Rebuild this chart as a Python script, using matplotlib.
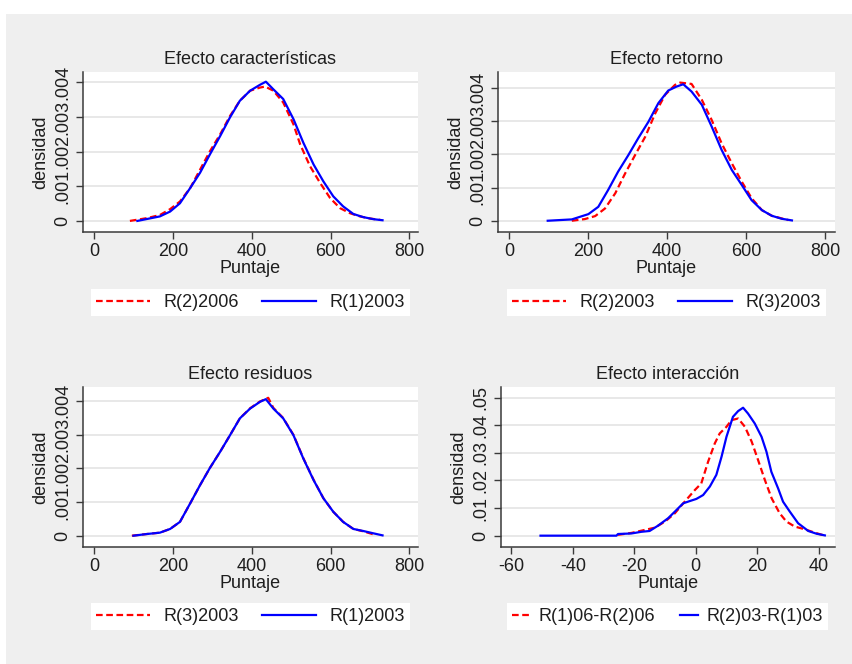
import matplotlib
matplotlib.use("Agg")
import matplotlib.pyplot as plt
from matplotlib.patches import Rectangle
from matplotlib.lines import Line2D

plt.rcParams['font.family'] = ['Liberation Sans', 'DejaVu Sans']

# ---------------- data ----------------
titles = ["Efecto características", "Efecto retorno", "Efecto residuos", "Efecto interacción"]
legend_labels = [["R(2)2006", "R(1)2003"], ["R(2)2003", "R(3)2003"],
                 ["R(3)2003", "R(1)2003"], ["R(1)06-R(2)06", "R(2)03-R(1)03"]]
x_label = "Puntaje"
y_label = "densidad"

score_ticks = [0, 200, 400, 600, 800]
score_ticklabels = ["0", "200", "400", "600", "800"]
dens_ticks = [0, 0.001, 0.002, 0.003, 0.004]
dens_ticklabels = ["0", ".001", ".002", ".003", ".004"]
inter_xticks = [-60, -40, -20, 0, 20, 40]
inter_xticklabels = ["-60", "-40", "-20", "0", "20", "40"]
inter_yticks = [0, 0.01, 0.02, 0.03, 0.04, 0.05]
inter_yticklabels = ["0", ".01", ".02", ".03", ".04", ".05"]

# Panel 1: Efecto características
p1_red_x = [91, 134, 167, 193, 218, 244, 269, 294, 320, 345, 370, 396, 421, 434, 455, 480, 506, 523, 548, 574, 599, 624, 650, 675, 700, 726]
p1_red_y = [0.0, 0.00008, 0.00017, 0.00034, 0.00056, 0.00095, 0.00148, 0.00201, 0.0025, 0.00303, 0.00347, 0.00376,
            0.00385, 0.00388, 0.00376, 0.00342, 0.00279, 0.00221, 0.00158, 0.00109, 0.00066, 0.00037, 0.00022,
            0.00013, 0.00007, 0.00003]
p1_blue_x = [110, 167, 193, 218, 244, 269, 294, 320, 345, 370, 396, 421, 436, 455, 480, 506, 531, 557, 582, 607, 632, 658, 683, 709, 732]
p1_blue_y = [0.0, 0.00013, 0.00027, 0.00051, 0.00095, 0.00139, 0.00192, 0.00245, 0.00299, 0.00347, 0.00376, 0.00393,
             0.00402, 0.0038, 0.00352, 0.00294, 0.00226, 0.00163, 0.00114, 0.00071, 0.00042, 0.0002, 0.00011,
             0.00005, 0.00002]

# Panel 2: Efecto retorno
p2_red_x = [159, 192, 218, 243, 269, 294, 319, 345, 370, 395, 420, 433, 462, 488, 513, 538, 564, 589, 614, 640, 665, 690, 707]
p2_red_y = [0.0, 0.00005, 0.00014, 0.00037, 0.00083, 0.00143, 0.00198, 0.00254, 0.00324, 0.0038, 0.0041, 0.00417,
            0.00413, 0.00365, 0.00304, 0.00234, 0.00173, 0.00118, 0.00068, 0.00032, 0.00015, 0.00007, 0.00002]
p2_blue_x = [98, 159, 201, 226, 251, 276, 302, 327, 353, 378, 403, 424, 441, 462, 488, 513, 538, 564, 589, 614, 640, 665, 690, 716]
p2_blue_y = [0.0, 0.00004, 0.0002, 0.00042, 0.00093, 0.00148, 0.00198, 0.00249, 0.00299, 0.00355, 0.00393, 0.00405,
             0.00412, 0.0039, 0.0035, 0.00284, 0.00214, 0.00153, 0.00108, 0.00062, 0.00032, 0.00015, 0.00006, 0.00001]

# Panel 3: Efecto residuos
p3_red_x = [96, 134, 167, 193, 218, 244, 269, 294, 320, 345, 370, 396, 421, 442, 455, 480, 506, 531, 557, 582, 607, 632, 658, 683, 709]
p3_red_y = [0.0, 0.00005, 0.00009, 0.0002, 0.00041, 0.00096, 0.0015, 0.00201, 0.00249, 0.00298, 0.00348, 0.00378,
            0.00398, 0.00409, 0.00379, 0.00349, 0.00299, 0.0023, 0.00166, 0.00111, 0.00071, 0.00041, 0.0002,
            0.00013, 0.00004]
p3_blue_x = [100, 134, 167, 193, 218, 244, 269, 294, 320, 345, 370, 396, 421, 436, 455, 480, 506, 531, 557, 582, 607, 632, 658, 683, 709, 732]
p3_blue_y = [0.0, 0.00005, 0.00009, 0.0002, 0.00041, 0.00096, 0.0015, 0.00201, 0.00249, 0.00298, 0.00348, 0.00377,
             0.00397, 0.00405, 0.00377, 0.00348, 0.00298, 0.00229, 0.00165, 0.00111, 0.00071, 0.00041, 0.0002,
             0.00014, 0.00007, 0.00001]

# Panel 4: Efecto interacción
p4_red_x = [-25.3, -20.9, -17.7, -13.3, -10, -6.8, -3.6, -0.3, 1.8, 4, 6.2, 7.8, 10, 11.6, 13.8, 16, 18.2, 20.3,
            22.5, 24.7, 27.3, 29.5, 32.2, 35.5, 38.7, 41.4]
p4_red_y = [0.0003, 0.001, 0.0018, 0.0029, 0.0051, 0.0081, 0.0123, 0.0165, 0.0189, 0.0267, 0.0334, 0.037, 0.0394,
            0.0418, 0.0424, 0.0394, 0.034, 0.0273, 0.0201, 0.0135, 0.0081, 0.0051, 0.0033, 0.0023, 0.0011, 0.0002]
p4_blue_x = [-50.5, -25.8, -25.3, -20.9, -17.7, -15, -12.3, -9, -6.8, -4.1, -2, 0.2, 2.4, 4.6, 6.7, 8.4, 10, 12.1,
             13.8, 15.4, 17, 19.2, 21.4, 23, 24.6, 26.8, 28.4, 30.6, 33.3, 36.6, 39.3, 42]
p4_blue_y = [0.0, 0.0, 0.0006, 0.0008, 0.0014, 0.0017, 0.0036, 0.0063, 0.0087, 0.0117, 0.0125, 0.0133, 0.0147,
             0.0178, 0.022, 0.0286, 0.0358, 0.043, 0.0451, 0.0463, 0.0442, 0.0406, 0.0358, 0.0304, 0.0231, 0.0171,
             0.0123, 0.0087, 0.0045, 0.0017, 0.0007, 0.0001]

# ---------------- layout ----------------
W, H = 853, 664
fig = plt.figure(figsize=(W / 100, H / 100), dpi=100, facecolor="white")
BG = "#EFEFEF"
fig.patches.append(Rectangle((6 / W, 0), 1 - 6 / W, 1 - 14 / H, transform=fig.transFigure,
                             facecolor=BG, edgecolor="none", zorder=-10))

FS = 13
TXT = "#1e1e1e"
SPINE = "#3a3a3a"


def px_axes(l, t, r, b):
    return fig.add_axes([l / W, 1 - b / H, (r - l) / W, (b - t) / H])


panels = [
    dict(box=(83, 72, 418, 232), xlim=(-28, 822), ylim=(-0.00032, 0.0043),
         xt=score_ticks, xtl=score_ticklabels, yt=dens_ticks, ytl=dens_ticklabels,
         red=(p1_red_x, p1_red_y), blue=(p1_blue_x, p1_blue_y),
         leg=(250.5, 289), hl=3.0, htp=0.75, cs=1.25),
    dict(box=(498, 72, 835, 232), xlim=(-27.8, 825), ylim=(-0.00034, 0.00449),
         xt=score_ticks, xtl=score_ticklabels, yt=dens_ticks, ytl=dens_ticklabels,
         red=(p2_red_x, p2_red_y), blue=(p2_blue_x, p2_blue_y),
         leg=(666.5, 289), hl=3.0, htp=0.75, cs=1.25),
    dict(box=(83, 387, 418, 547), xlim=(-28, 822), ylim=(-0.000335, 0.00441),
         xt=score_ticks, xtl=score_ticklabels, yt=dens_ticks, ytl=dens_ticklabels,
         red=(p3_red_x, p3_red_y), blue=(p3_blue_x, p3_blue_y),
         leg=(250.5, 603), hl=3.0, htp=0.75, cs=1.25),
    dict(box=(501, 387, 835, 547), xlim=(-63.35, 45.3), ylim=(-0.0041, 0.0538),
         xt=inter_xticks, xtl=inter_xticklabels, yt=inter_yticks, ytl=inter_yticklabels,
         red=(p4_red_x, p4_red_y), blue=(p4_blue_x, p4_blue_y),
         leg=(667.5, 603), hl=1.0, htp=0.45, cs=1.4),
]

for i, p in enumerate(panels):
    ax = px_axes(*p["box"])
    ax.set_facecolor("white")
    for s in ("top", "right"):
        ax.spines[s].set_visible(False)
    for s in ("left", "bottom"):
        ax.spines[s].set_color(SPINE)
        ax.spines[s].set_linewidth(1.1)
    ax.set_xlim(*p["xlim"])
    ax.set_ylim(*p["ylim"])
    ax.set_xticks(p["xt"], p["xtl"])
    ax.set_yticks(p["yt"], p["ytl"])
    ax.tick_params(axis="both", direction="out", length=5, width=1.0, color=SPINE,
                   labelsize=FS, labelcolor=TXT)
    ax.tick_params(axis="x", pad=2.6)
    ax.tick_params(axis="y", pad=3.4, labelrotation=90)
    for lbl in ax.get_yticklabels():
        lbl.set_va("center")
    ax.grid(axis="y", color="#E4E4E4", linewidth=1.2, zorder=0)
    ax.set_axisbelow(True)

    ax.plot(*p["red"], color="#FF0000", linewidth=1.6, dashes=(3, 1.6), zorder=3,
            label=legend_labels[i][0])
    ax.plot(*p["blue"], color="#0000FF", linewidth=1.6, zorder=4,
            label=legend_labels[i][1])

    ax.set_title(titles[i], fontsize=FS, color=TXT, pad=5.5)
    ax.set_xlabel(x_label, fontsize=FS, color=TXT, labelpad=0.5)
    ax.set_ylabel(y_label, fontsize=FS, color=TXT, labelpad=3.3)

    cx, ty = p["leg"]
    leg = ax.legend(loc="upper center", bbox_to_anchor=(cx / W, 1 - ty / H),
                    bbox_transform=fig.transFigure, ncol=2, fontsize=FS,
                    frameon=True, fancybox=False, facecolor="white", edgecolor="none",
                    framealpha=1, handlelength=p["hl"], handletextpad=p["htp"],
                    columnspacing=p["cs"], borderpad=0.28, borderaxespad=0)
    for t in leg.get_texts():
        t.set_color(TXT)

fig.savefig("out.png", dpi=100, facecolor=fig.get_facecolor())
